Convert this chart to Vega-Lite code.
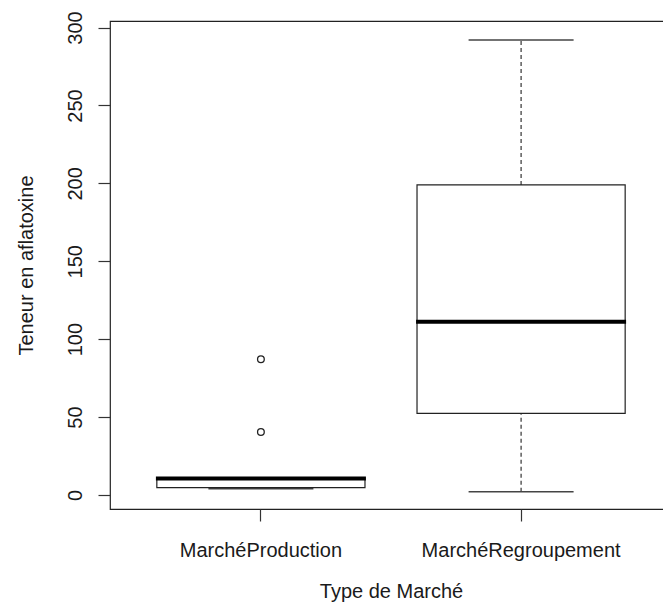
{
  "$schema": "https://vega.github.io/schema/vega-lite/v6.json",
  "autosize": {"type": "none"},
  "padding": {"left": 110, "top": 21, "right": 0, "bottom": 101},
  "width": 562,
  "height": 488,
  "background": "white",
  "config": {
    "view": {"stroke": "#222222", "strokeWidth": 1.2},
    "font": "Liberation Sans",
    "axis": {
      "domain": false,
      "grid": false,
      "tickColor": "#333333",
      "tickWidth": 1.2,
      "labelFont": "Liberation Sans",
      "titleFont": "Liberation Sans",
      "labelFontSize": 20,
      "titleFontSize": 20,
      "labelLimit": 0,
      "labelColor": "#1a1a1a",
      "titleColor": "#1a1a1a",
      "titleFontWeight": "normal"
    }
  },
  "datasets": {
    "boxes": [
      {"type": "MarchéProduction", "lower": 4.0, "q1": 4.7, "median": 10.5, "q3": 10.8, "upper": 10.8},
      {"type": "MarchéRegroupement", "lower": 2.1, "q1": 52.4, "median": 111.2, "q3": 199.0, "upper": 292.0}
    ],
    "outliers": [
      {"type": "MarchéProduction", "value": 40.4},
      {"type": "MarchéProduction", "value": 87.1}
    ]
  },
  "encoding": {
    "x": {
      "field": "type",
      "type": "nominal",
      "sort": ["MarchéProduction", "MarchéRegroupement"],
      "scale": {"type": "band", "paddingInner": 0.2, "paddingOuter": 0.18},
      "axis": {
        "title": "Type de Marché",
        "labelAngle": 0,
        "tickSize": 12,
        "labelPadding": 19,
        "titlePadding": 21
      }
    }
  },
  "layer": [
    {
      "data": {"name": "boxes"},
      "mark": {"type": "rule", "stroke": "#333333", "strokeWidth": 1.2, "strokeDash": [4, 3]},
      "encoding": {
        "y": {
          "field": "lower",
          "type": "quantitative",
          "scale": {"domain": [-9, 304.2], "nice": false, "zero": false},
          "axis": {
            "title": "Teneur en aflatoxine",
            "values": [0, 50, 100, 150, 200, 250, 300],
            "labelAngle": 270,
            "tickSize": 12,
            "labelPadding": 13,
            "titlePadding": 29
          }
        },
        "y2": {"field": "q1"}
      }
    },
    {
      "data": {"name": "boxes"},
      "mark": {"type": "rule", "stroke": "#333333", "strokeWidth": 1.2, "strokeDash": [4, 3]},
      "encoding": {
        "y": {"field": "q3", "type": "quantitative"},
        "y2": {"field": "upper"}
      }
    },
    {
      "data": {"name": "boxes"},
      "mark": {"type": "tick", "color": "#444444", "opacity": 1, "size": 105, "thickness": 1.5},
      "encoding": {"y": {"field": "lower", "type": "quantitative"}}
    },
    {
      "data": {"name": "boxes"},
      "mark": {"type": "tick", "color": "#444444", "opacity": 1, "size": 105, "thickness": 1.5},
      "encoding": {"y": {"field": "upper", "type": "quantitative"}}
    },
    {
      "data": {"name": "boxes"},
      "mark": {"type": "bar", "fill": "white", "stroke": "#222222", "strokeWidth": 1.2},
      "encoding": {
        "y": {"field": "q1", "type": "quantitative"},
        "y2": {"field": "q3"}
      }
    },
    {
      "data": {"name": "boxes"},
      "mark": {"type": "tick", "color": "#000000", "opacity": 1, "size": 210, "thickness": 4},
      "encoding": {"y": {"field": "median", "type": "quantitative"}}
    },
    {
      "data": {"name": "outliers"},
      "mark": {"type": "point", "shape": "circle", "filled": false, "opacity": 1, "stroke": "#222222", "strokeWidth": 1.3, "size": 45},
      "encoding": {"y": {"field": "value", "type": "quantitative"}}
    }
  ]
}
